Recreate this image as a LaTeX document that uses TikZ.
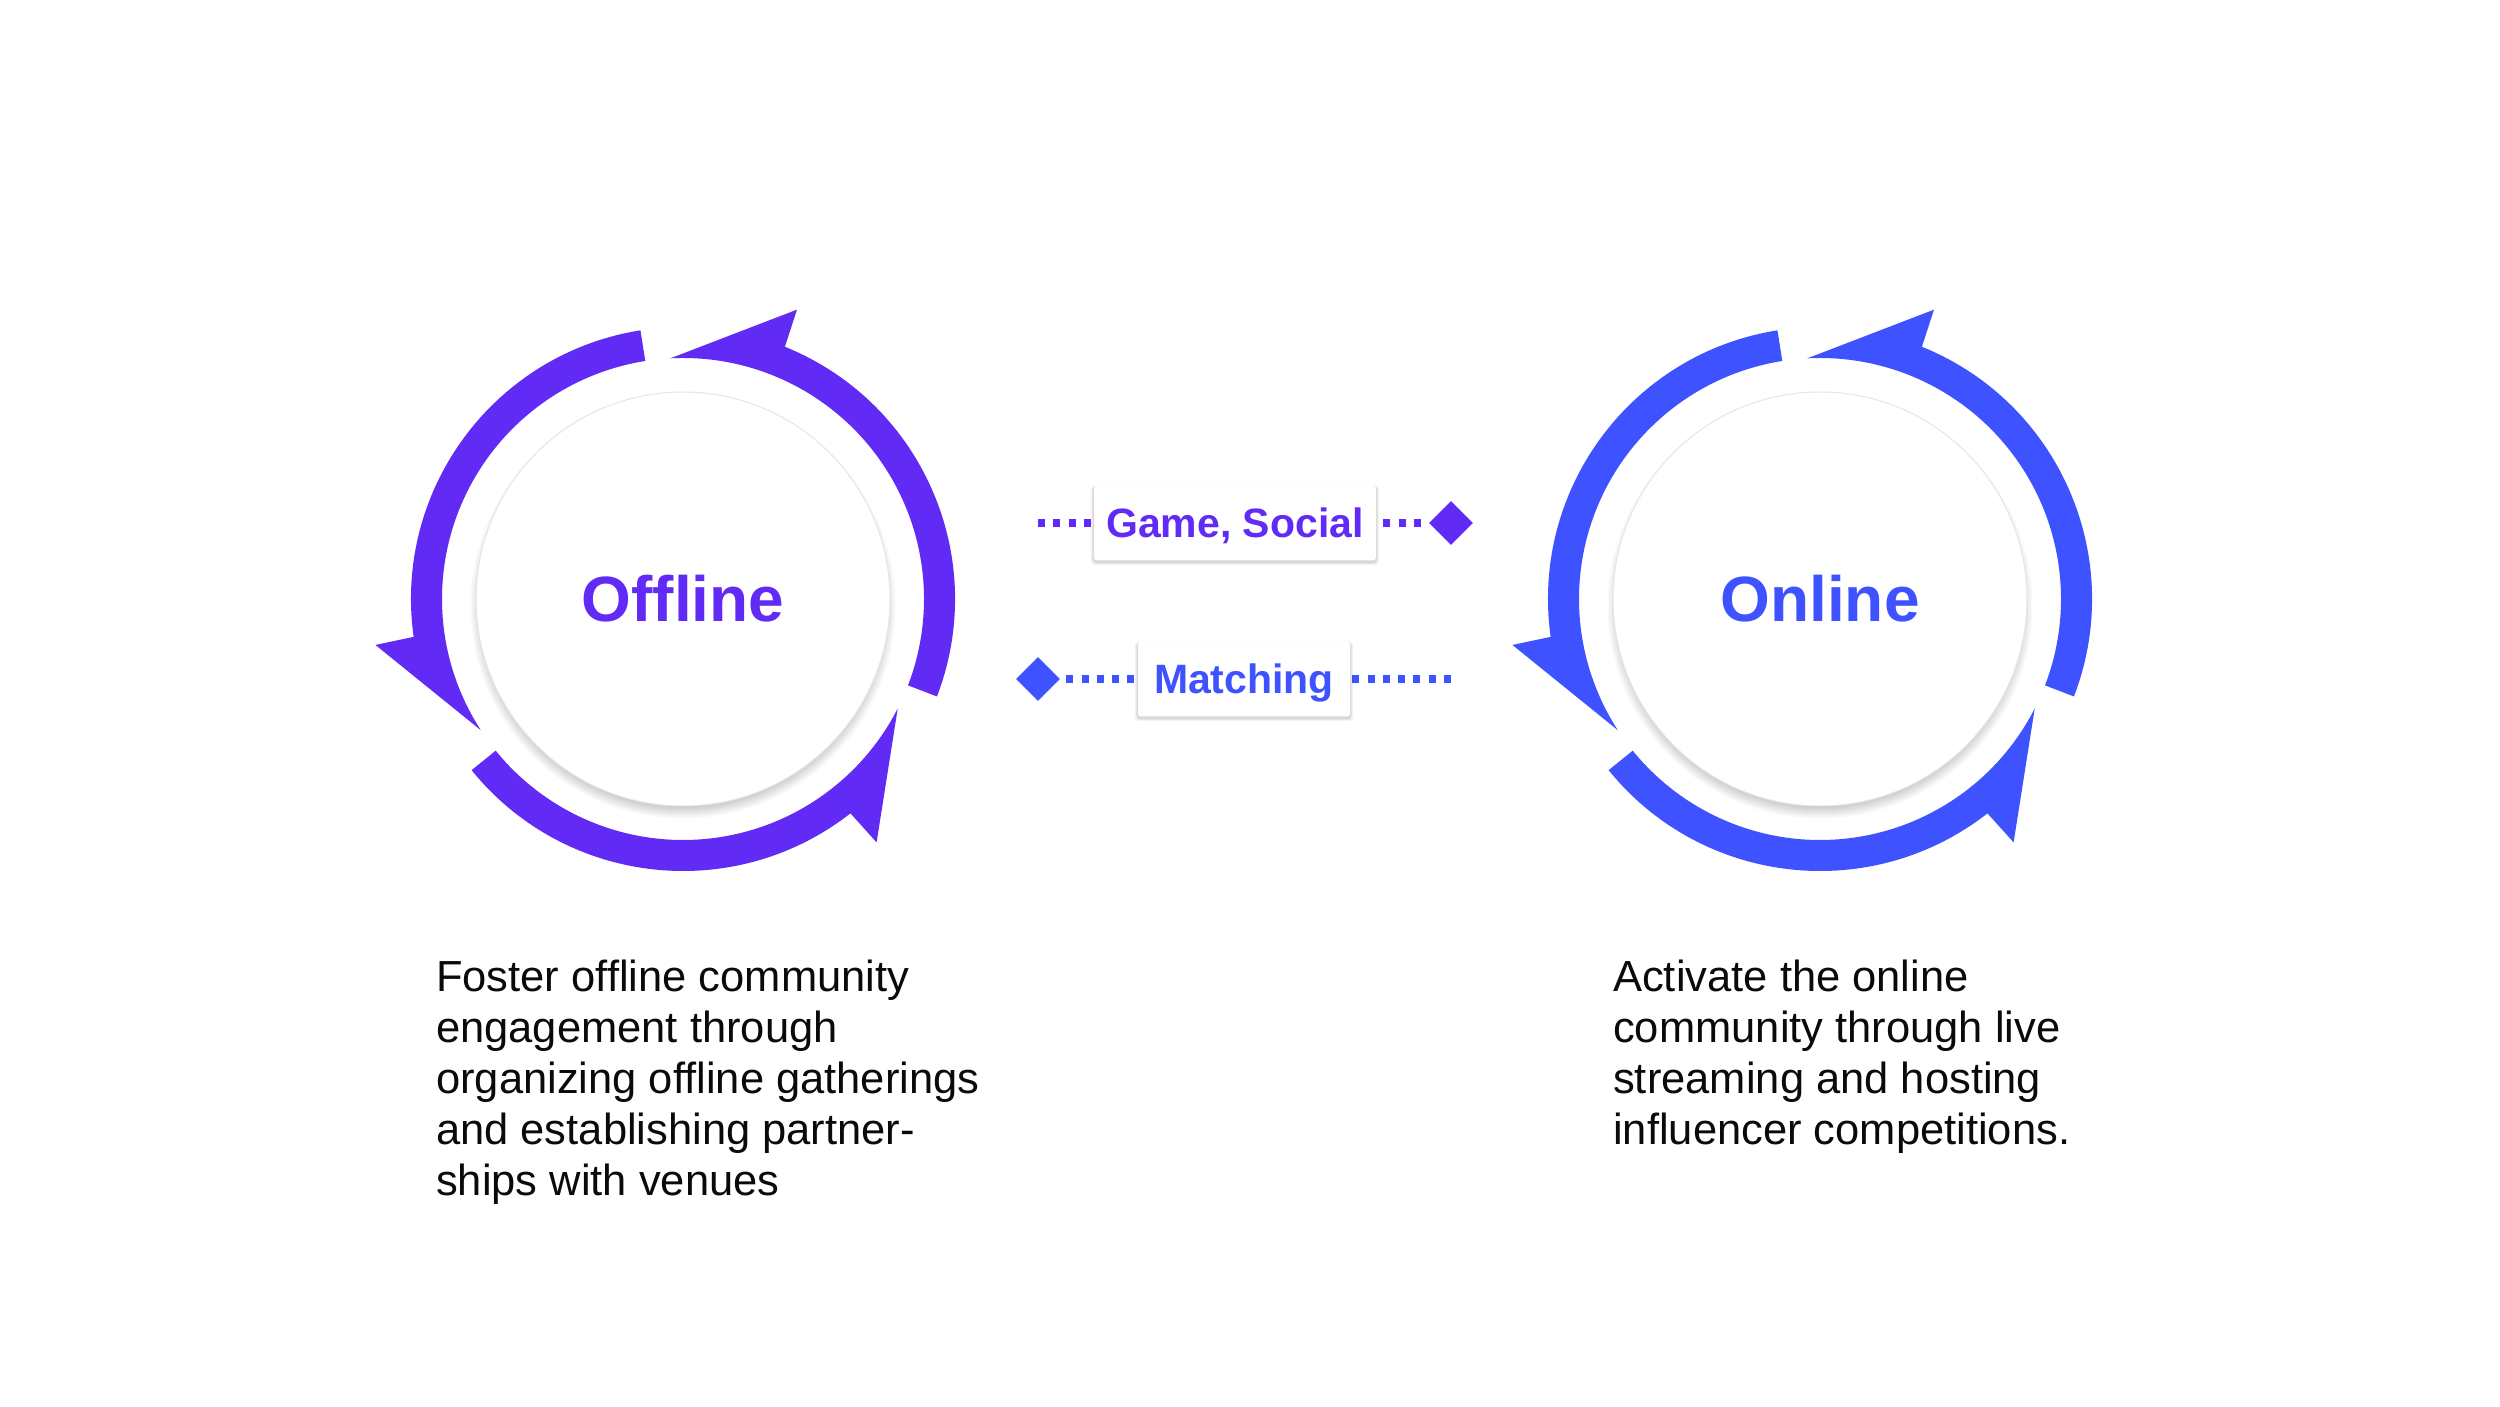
\documentclass[tikz,border=0pt]{standalone}
\usepackage{fontspec}
\setmainfont{Liberation Sans}
\usetikzlibrary{calc,shapes.geometric,backgrounds}
\definecolor{cpurple}{RGB}{97,43,245}
\definecolor{cblue}{RGB}{62,82,255}
\definecolor{ctext}{RGB}{10,10,10}
\newcommand\myring[2]{%
  \foreach \s in {99,219,339}{%
    \fill[#2] ($(#1)+(\s:272pt)$) arc[start angle=\s, end angle=\s+89, radius=272pt]
      -- ($(#1)+({\s+89.5}:311pt)$) -- ($(#1)+({\s+114}:241pt)$)
      arc[start angle=\s+114, end angle=\s, radius=241pt] -- cycle;}}
\newcommand\mycircshadow[1]{%
  \foreach \k in {0,...,11}{\fill[black,opacity=0.022] ($(#1)+(0,-7pt)$) circle[radius={196pt+1.5pt*\k}];}}
\newcommand\myboxshadow[1]{%
  \foreach \k in {1,...,5}{\fill[black,opacity=0.03,rounded corners=4pt]
    ($(#1.south west)+(-0.6pt*\k,-1.5pt-0.6pt*\k)$) rectangle ($(#1.north east)+(0.6pt*\k,0.3pt*\k-1.5pt)$);}}
\tikzset{
  whitecirc/.style={circle, fill=white, draw=black!10, line width=1pt, minimum size=414pt, inner sep=0pt},
  bigword/.style={font=\fontsize{64}{70}\selectfont\bfseries, inner sep=0pt},
  lbl/.style={fill=white, rounded corners=3pt, minimum height=75pt, inner sep=0pt,
    font=\fontsize{41}{45}\selectfont\bfseries, text height=29.4pt, text depth=0pt},
  dotline/.style={line width=8pt, dash pattern=on 7pt off 8.3pt},
  dia/.style={diamond, minimum size=44pt, inner sep=0pt},
  desc/.style={align=left, anchor=north west, inner sep=0pt, text=ctext,
    font=\fontsize{43.5}{51}\selectfont},
}
\begin{document}
\begin{tikzpicture}[x=1pt,y=1pt]
\useasboundingbox (0,0) rectangle (2500,1406);
\begin{pgfonlayer}{background}
  \fill[white] (0,0) rectangle (2500,1406);
\end{pgfonlayer}
\coordinate (cL) at (683,807);
\coordinate (cR) at (1820,807);
\myring{cL}{cpurple}
\myring{cR}{cblue}
\mycircshadow{cL}
\mycircshadow{cR}
\node[whitecirc] (wL) at (cL) {};
\node[whitecirc] (wR) at (cR) {};
\node[bigword, text=cpurple] (tL) at (cL) {Offline};
\node[bigword, text=cblue] (tR) at (cR) {Online};
% labels
\coordinate (g0) at (1038,883);
\node[dia, fill=cpurple] (gd) at (1451,883) {};
\node[lbl, text=cpurple, minimum width=282pt] (gbox) at (1235,883) {Game, Social};
\node[dia, fill=cblue] (md) at (1038,727) {};
\coordinate (m1) at (1452,727);
\node[lbl, text=cblue, minimum width=212pt] (mbox) at (1244,727) {Matching};
\begin{pgfonlayer}{background}
  \draw[dotline, cpurple] (g0) -- (gbox.west);
  \draw[dotline, cpurple] ([xshift=7pt]gbox.east) -- ([xshift=-5pt]gd.west);
  \draw[dotline, cblue] ([xshift=6pt]md.east) -- (mbox.west);
  \draw[dotline, cblue] ([xshift=2pt]mbox.east) -- (m1);
  \myboxshadow{gbox}
  \myboxshadow{mbox}
\end{pgfonlayer}
% descriptions
\node[desc] (dL) at (436,446) {Foster offline community\\engagement through\\organizing offline gatherings\\and establishing partner-\\ships with venues};
\node[desc] (dR) at (1613,446) {Activate the online\\community through live\\streaming and hosting\\influencer competitions.};
\end{tikzpicture}
\end{document}
